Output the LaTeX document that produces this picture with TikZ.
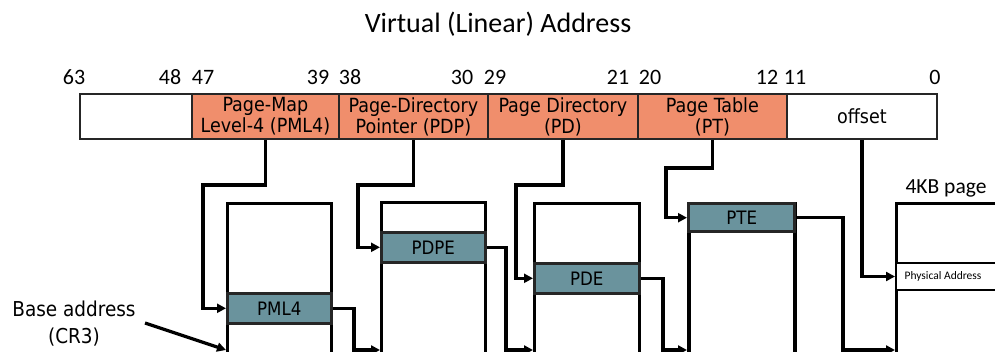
\documentclass[tikz,border=0pt]{standalone}
\usepackage{fontspec}
\setmainfont{DejaVu Sans Condensed}
\newfontfamily\calfont{Carlito}
\usetikzlibrary{arrows.meta,shadows}
\definecolor{fieldorg}{RGB}{240,142,108}
\definecolor{entryteal}{RGB}{106,147,157}
\tikzset{
  softshadow/.style={drop shadow={opacity=0.35, shadow xshift=1.5pt, shadow yshift=-1.5pt}},
  field/.style={draw=black!85, line width=1.8pt, inner sep=0pt, anchor=north west, minimum height=45pt, align=center, font=\fontsize{19.5}{21}\selectfont},
  tbl/.style={draw=black, line width=3.2pt, inner sep=0pt, anchor=north west, fill=white},
  entry/.style={draw=black!85, line width=2.6pt, fill=entryteal, inner sep=0pt, anchor=north west, font=\fontsize{18.5}{20}\selectfont, softshadow},
  bitlbl/.style={font=\calfont\fontsize{22}{24}\selectfont, inner sep=0pt},
  conn/.style={line width=3.2pt, -{Triangle[length=9pt,width=9pt]}},
}
\begin{document}
\begin{tikzpicture}[x=1pt,y=-1pt]
\useasboundingbox (0,0) rectangle (995,352);
\clip (0,0) rectangle (995,352);
% title
\node[font=\calfont\fontsize{28}{30}\selectfont] (title) at (498,24) {Virtual (Linear) Address};
% bit labels
\node[bitlbl] (b63) at (74,77) {63};
\node[bitlbl] (b48) at (170,77) {48};
\node[bitlbl] (b47) at (203,77) {47};
\node[bitlbl] (b39) at (318,77) {39};
\node[bitlbl] (b38) at (350,77) {38};
\node[bitlbl] (b30) at (462,77) {30};
\node[bitlbl] (b29) at (495,77) {29};
\node[bitlbl] (b21) at (618,77) {21};
\node[bitlbl] (b20) at (650,77) {20};
\node[bitlbl] (b12) at (767,77) {12};
\node[bitlbl] (b11) at (795,77) {11};
\node[bitlbl] (b0) at (935,77) {0};
% address fields
\node[field, softshadow, fill=white, minimum width=112pt] (f0) at (79,93) {};
\node[field, softshadow, fill=fieldorg, minimum width=147pt] (f1) at (191,93) {Page-Map\\Level-4 (PML4)};
\node[field, softshadow, fill=fieldorg, minimum width=149pt] (f2) at (338,93) {Page-Directory\\Pointer (PDP)};
\node[field, softshadow, fill=fieldorg, minimum width=150pt] (f3) at (487,93) {Page Directory\\(PD)};
\node[field, softshadow, fill=fieldorg, minimum width=149pt] (f4) at (637,93) {Page Table\\(PT)};
\node[field, softshadow, fill=white, minimum width=150pt] (f5) at (786,93) {offset};
% tables
\node[tbl, minimum width=104pt, minimum height=170pt] (pml4t) at (226,202) {};
\node[tbl, minimum width=104pt, minimum height=170pt] (pdpt) at (380,201) {};
\node[tbl, minimum width=105pt, minimum height=170pt] (pdt) at (533,202) {};
\node[tbl, line width=3.8pt, minimum width=106pt, minimum height=170pt] (ptt) at (687,202) {};
\node[tbl, minimum width=120pt, minimum height=170pt] (page) at (895,202) {};
% entries
\node[entry, minimum width=104pt, minimum height=30pt] (pml4e) at (226,292) {PML4};
\node[entry, minimum width=104pt, minimum height=30pt] (pdpe) at (380,231) {PDPE};
\node[entry, minimum width=105pt, minimum height=30pt] (pde) at (533,262) {PDE};
\node[entry, line width=3.4pt, minimum width=106pt, minimum height=28pt] (pte) at (687,202) {PTE};
\node[draw=black, line width=2pt, fill=white, inner sep=0pt, anchor=north west, minimum width=120pt, minimum height=27pt, font=\calfont\fontsize{11.5}{13}\selectfont] (phys) at (895,262) {\hspace*{-26pt}Physical Address};
\node[font=\calfont\fontsize{21.5}{23}\selectfont, anchor=base] (pglbl) at (946,194) {4KB page};
% base address label
\node[align=center, font=\fontsize{20.5}{27}\selectfont] (base) at (74,324) {Base address\\(CR3)};
\coordinate (yb) at (0,350);
\coordinate (cr3s) at (145,323);
% connectors from address fields
\draw[conn] (f1.south) |- (203,185) |- (pml4e.west);
\draw[conn] (f2.south) |- (358,185) |- (pdpe.west);
\draw[conn] (f3.south) |- (516,185) |- (pde.west);
\draw[conn] (f4.south) |- (666,168) |- (pte.west);
\draw[conn] (f5.south) |- (phys.west);
% connectors between tables
\draw[conn] (pml4e.east) -| (354,350) -- (pdpt.west |- yb);
\draw[conn] (pdpe.east) -| (506,350) -- (pdt.west |- yb);
\draw[conn] (pde.east) -| (663,350) -- (ptt.west |- yb);
\draw[conn] (pte.east) -| (843,350) -- (page.west |- yb);
\draw[conn] (cr3s) -- (pml4t.west |- yb);
\end{tikzpicture}
\end{document}
